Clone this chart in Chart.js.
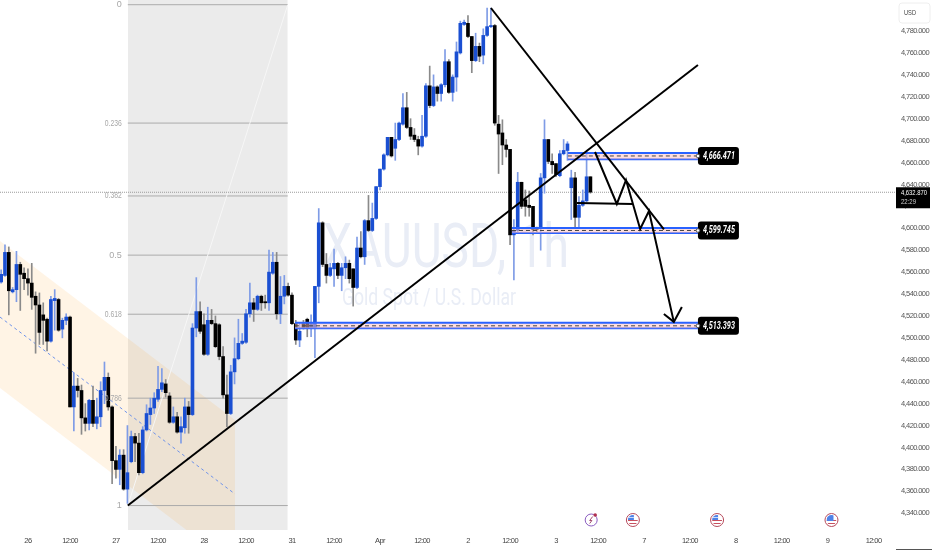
<!DOCTYPE html>
<html>
<head>
<meta charset="utf-8">
<title>XAUUSD 1h</title>
<script src="https://cdn.jsdelivr.net/npm/chart.js@4/dist/chart.umd.min.js"></script>
<style>
  html, body { margin: 0; padding: 0; background: #fff; }
  #wrap { width: 932px; height: 550px; }
</style>
</head>
<body>
<div id="wrap"><canvas id="chart" width="932" height="550"></canvas></div>
<script>
// Candles, hourly, oldest first. First candle sits at bar index -7
const opens = [4551,4557,4578,4542,4544,4567,4559,4554,4550,4538,4530,4521,4517,4497,4534,4535,4508,4516,4519,4437,4456,4452,4427,4422,4443,4422,4428,4452,4464,4437,4388,4380,4393,4362,4387,4410,4404,4377,4416,4430,4436,4444,4453,4458,4447,4423,4428,4414,4418,4437,4430,4509,4524,4512,4485,4516,4513,4512,4483,4448,4431,4469,4481,4495,4496,4522,4532,4526,4538,4533,4532,4559,4569,4522,4538,4547,4539,4513,4498,4513,4517,4509,4509,4547,4605,4567,4557,4563,4568,4557,4564,4568,4563,4546,4582,4574,4607,4598,4609,4638,4654,4667,4683,4673,4681,4695,4710,4692,4685,4681,4675,4684,4730,4712,4729,4723,4731,4752,4724,4738,4760,4786,4787,4775,4753,4766,4758,4776,4784,4785,4695,4687,4676,4672,4594,4598,4642,4626,4621,4620,4600,4600,4646,4681,4661,4659,4648,4668,4671,4637,4646,4610,4621,4625,4647]
const highs = [4562,4585,4583,4546,4579,4569,4564,4563,4568,4542,4541,4532,4518,4538,4544,4536,4518,4522,4520,4468,4463,4457,4440,4444,4456,4445,4460,4478,4468,4438,4401,4398,4398,4420,4415,4413,4413,4419,4439,4445,4450,4474,4472,4462,4450,4437,4432,4428,4445,4442,4513,4555,4533,4522,4528,4526,4520,4513,4492,4466,4475,4500,4517,4504,4526,4550,4536,4539,4539,4539,4580,4578,4578,4556,4557,4550,4541,4516,4514,4516,4518,4521,4547,4618,4606,4577,4568,4581,4569,4568,4574,4571,4563,4592,4597,4608,4630,4623,4638,4654,4668,4683,4683,4696,4697,4723,4724,4700,4691,4684,4703,4732,4748,4740,4730,4732,4763,4754,4740,4770,4789,4790,4794,4775,4778,4769,4782,4801,4801,4786,4703,4699,4681,4672,4608,4651,4642,4635,4634,4620,4601,4650,4699,4681,4668,4659,4671,4681,4679,4653,4651,4629,4635,4670,4647]
const lows = [4550,4556,4521,4541,4533,4525,4544,4539,4526,4486,4494,4494,4488,4496,4507,4506,4500,4512,4437,4415,4446,4412,4415,4416,4419,4417,4419,4440,4434,4367,4372,4366,4361,4349,4386,4387,4375,4376,4415,4421,4431,4442,4451,4446,4422,4422,4413,4404,4413,4413,4429,4501,4504,4484,4484,4512,4491,4480,4445,4419,4430,4458,4480,4494,4495,4519,4515,4525,4525,4527,4525,4558,4517,4513,4531,4538,4512,4494,4492,4508,4501,4501,4482,4532,4565,4550,4556,4547,4554,4543,4554,4550,4529,4545,4573,4567,4597,4597,4608,4635,4653,4666,4665,4662,4680,4694,4691,4681,4679,4667,4674,4683,4710,4711,4716,4716,4729,4723,4716,4725,4759,4785,4774,4742,4752,4752,4750,4775,4783,4694,4650,4658,4665,4585,4553,4597,4618,4611,4611,4594,4595,4580,4632,4659,4650,4647,4647,4667,4662,4608,4601,4600,4620,4624,4632]
const closes = [4558,4578,4543,4544,4567,4558,4554,4550,4537,4530,4505,4516,4497,4535,4536,4507,4516,4519,4437,4456,4452,4427,4422,4443,4422,4428,4452,4464,4437,4388,4380,4393,4362,4377,4410,4404,4377,4416,4431,4436,4445,4453,4459,4450,4423,4428,4414,4419,4437,4430,4509,4524,4506,4485,4516,4513,4492,4483,4448,4431,4469,4481,4495,4497,4522,4532,4526,4538,4532,4532,4560,4569,4522,4538,4547,4539,4513,4498,4506,4509,4509,4513,4547,4605,4567,4557,4564,4568,4557,4564,4568,4554,4546,4582,4574,4607,4598,4609,4638,4654,4667,4683,4666,4681,4696,4710,4692,4684,4681,4675,4684,4730,4712,4729,4723,4731,4752,4724,4738,4761,4787,4788,4775,4753,4766,4757,4776,4784,4785,4696,4686,4676,4672,4594,4598,4642,4620,4620,4619,4599,4599,4646,4681,4661,4658,4649,4668,4671,4677,4646,4610,4621,4625,4647,4633]
const firstBar = -7

// Time axis
const timeTicks = [0,11,23,34,46,57,69,80,92,103,115,126,138,149,161,173,185,197,209,221]
const timeLabels = ["26","12:00","27","12:00","28","12:00","31","12:00","Apr","12:00","2","12:00","3","12:00","7","12:00","8","12:00","9","12:00"]

// Price axis
const priceTicks = [4340,4360,4380,4400,4420,4440,4460,4480,4500,4520,4540,4560,4580,4600,4620,4640,4660,4680,4700,4720,4740,4760,4780]
const priceMin = 4324.7
const priceMax = 4808.3
const barMin = -7.3
const barMax = 226.6
const lastPrice = 4632.87

// Fibonacci retracement
const fibRatios = ["0","0.236","0.382","0.5","0.618","0.786","1"]
const fibPrices = [4804,4696,4629.5,4575.5,4521.6,4445,4347]
const fibStart = 26.1
const fibEnd = 67.9

// Regression channel
const channelBars = [-7.3,54.1]
const channelUpper = [4588.4,4425]
const channelMiddle = [4519,4357.6]
const channelLower = [4454.3,4291]

// Marked zones
const zoneStarts = [141.1,126.5,69.8]
const zoneEnd = 175.1
const zoneTops = [4668.7,4600.3,4513.9]
const zoneBottoms = [4663,4595.7,4508.8]
const zoneMids = [4666,4598,4511]
const zoneLabels = ["4,666.471","4,599.745","4,513.393"]

// Hand drawn lines
const riseLine = [[26.1,4347],[175.1,4749]]
const fallLine = [[121,4801],[166.2,4599]]
const pathLine = [[148.2,4669.6],[153.9,4622.2],[156.3,4644],[160,4599.4],[162.3,4615.8],[168.8,4514.6]]
const flatLine = [[143.5,4623],[158.1,4622.2]]
const arrowHead = [[166.2,4521.8],[168.8,4514.6],[170.9,4528.2]]

// Event markers under the candles
const eventBars = [147.2,158.1,180.1,210]
const eventKinds = ["flash","flag","flag","flagPartial"]

const BLUE = "#1a4fd2"
const BLUE_WICK = "#7f9ce6"
const BLACK = "#000000"
const BLACK_WICK = "#8a8a8a"

const labelFont = '"Liberation Sans", Roboto, sans-serif'

const isUp = opens.map((o, i) => closes[i] >= o)
const datasets = []

function addLine(points, color, width, order, extra) {
  datasets.push(Object.assign({
    type: "line",
    data: points.map((p) => ({ x: p[0], y: p[1] })),
    borderColor: color,
    borderWidth: width,
    pointRadius: 0,
    tension: 0,
    fill: false,
    order: order,
  }, extra || {}))
}

// Gris de fond du fib
addLine([[fibStart, priceMax], [fibEnd, priceMax]], "transparent", 0, 60, { fill: "+1", backgroundColor: "#ebebeb" })
addLine([[fibStart, priceMin], [fibEnd, priceMin]], "transparent", 0, 61)

// Channel
addLine(channelBars.map((b, i) => [b, channelUpper[i]]), "transparent", 0, 50, { fill: "+1", backgroundColor: "rgba(255,152,0,0.1)" })
addLine(channelBars.map((b, i) => [b, channelLower[i]]), "transparent", 0, 51)
addLine(channelBars.map((b, i) => [b, channelMiddle[i]]), "#6f93ea", 1, 49, { borderDash: [3, 3] })

// Fib levels and diagonal
fibPrices.forEach((p) => addLine([[fibStart, p], [fibEnd, p]], "#ababab", 1, 45))
addLine([[fibStart, fibPrices[6]], [fibEnd, fibPrices[0]]], "#f7f7f7", 1, 44)

// Last price line
addLine([[barMin, lastPrice], [barMax, lastPrice]], "#9a9a9a", 1, 40, { borderDash: [1, 1] })

// Candles
datasets.push({
  type: "bar",
  data: opens.map((o, i) => ({ x: firstBar + i, y: [lows[i], highs[i]] })),
  backgroundColor: isUp.map((u) => (u ? BLUE_WICK : BLACK_WICK)),
  barThickness: 1,
  grouped: false,
  order: 31,
})
datasets.push({
  type: "bar",
  data: opens.map((o, i) => ({ x: firstBar + i, y: [o, closes[i]] })),
  backgroundColor: isUp.map((u) => (u ? BLUE : BLACK)),
  barThickness: 3,
  minBarLength: 1,
  grouped: false,
  order: 30,
})

// Zones
zoneStarts.forEach((s, i) => {
  addLine([[s, zoneTops[i]], [zoneEnd, zoneTops[i]]], "#2962ff", 2, 20, { fill: "+1", backgroundColor: "rgba(255,190,190,0.5)" })
  addLine([[s, zoneBottoms[i]], [zoneEnd, zoneBottoms[i]]], "#2962ff", 2, 20)
  addLine([[s, zoneMids[i]], [zoneEnd, zoneMids[i]]], "#444444", 1, 19, { borderDash: [4, 3] })
})

// Black drawings
addLine(riseLine, BLACK, 2, 5)
addLine(fallLine, BLACK, 2, 5)
addLine(pathLine, BLACK, 2, 5)
addLine(flatLine, BLACK, 2, 5)
addLine(arrowHead, BLACK, 2, 5)

function drawFlag(ctx, x, y, partial) {
  ctx.save()
  ctx.beginPath()
  ctx.arc(x, y, 6.5, 0, Math.PI * 2)
  ctx.fillStyle = "#fff"
  ctx.fill()
  ctx.strokeStyle = "#b5495b"
  ctx.lineWidth = 1
  ctx.stroke()
  ctx.beginPath()
  ctx.arc(x, y, 5, 0, Math.PI * 2)
  ctx.clip()
  ctx.fillStyle = "#c8505f"
  ctx.fillRect(x - 5, y, 10, 1)
  ctx.fillRect(x - 5, y + 3, 10, 1)
  ctx.fillStyle = "#4f82e8"
  if (partial) {
    ctx.fillRect(x - 5, y - 5, 7, 6)
  } else {
    ctx.fillRect(x - 5, y - 5, 6, 5)
    ctx.fillStyle = "#fff"
    ctx.fillRect(x - 5, y - 3, 6, 0.7)
  }
  ctx.restore()
}

function drawFlash(ctx, x, y) {
  ctx.save()
  ctx.beginPath()
  ctx.arc(x, y, 6, 0, Math.PI * 2)
  ctx.strokeStyle = "#8a5cc0"
  ctx.lineWidth = 1
  ctx.stroke()
  ctx.beginPath()
  ctx.moveTo(x + 1.5, y - 3.5)
  ctx.lineTo(x - 1.5, y + 0.5)
  ctx.lineTo(x + 0.7, y + 0.5)
  ctx.lineTo(x - 1.5, y + 3.5)
  ctx.strokeStyle = "#a0486e"
  ctx.stroke()
  ctx.beginPath()
  ctx.arc(x + 4, y - 5, 1.8, 0, Math.PI * 2)
  ctx.fillStyle = "#b03050"
  ctx.fill()
  ctx.restore()
}

// Pas de marge pour les libelles qui debordent
function noPadding(axis) {
  axis.paddingLeft = 0
  axis.paddingRight = 0
  axis.paddingTop = 0
  axis.paddingBottom = 0
}

const overlay = {
  id: "overlay",
  beforeDraw(chart) {
    chart.ctx.letterSpacing = "-0.6px"
  },
  // Filigrane sous les bougies
  beforeDatasetsDraw(chart) {
    const ctx = chart.ctx
    ctx.save()
    ctx.letterSpacing = "0px"
    ctx.fillStyle = "#e9edf6"
    ctx.textAlign = "left"
    ctx.textBaseline = "alphabetic"
    ctx.font = "62px Roboto, sans-serif"
    ctx.fillText("XAUUSD, 1h", 323, 267, 246)
    ctx.font = "24px Roboto, sans-serif"
    ctx.fillText("Gold Spot / U.S. Dollar", 342, 305, 174)
    ctx.restore()
  },
  afterDraw(chart) {
    const ctx = chart.ctx
    const xs = chart.scales.x
    const ys = chart.scales.y
    ctx.save()
    ctx.letterSpacing = "0px"

    // Fib labels
    ctx.font = "9px " + labelFont
    ctx.fillStyle = "#a8a8a8"
    ctx.textAlign = "right"
    ctx.textBaseline = "middle"
    fibRatios.forEach((r, i) => {
      ctx.fillText(r, xs.getPixelForValue(fibStart) - 6, ys.getPixelForValue(fibPrices[i]), 17)
    })

    // Zone price tags
    zoneLabels.forEach((label, i) => {
      const x = xs.getPixelForValue(zoneEnd)
      const y = ys.getPixelForValue(zoneMids[i])
      ctx.beginPath()
      ctx.roundRect(x, y - 9, 41, 18, 3)
      ctx.fillStyle = "#000"
      ctx.fill()
      ctx.beginPath()
      ctx.arc(x, y, 1.8, 0, Math.PI * 2)
      ctx.fillStyle = "#fff"
      ctx.fill()
      ctx.strokeStyle = "#555"
      ctx.lineWidth = 1
      ctx.stroke()
      ctx.fillStyle = "#fff"
      ctx.font = "italic bold 10px Roboto, sans-serif"
      ctx.textAlign = "left"
      ctx.fillText(label, x + 5, y + 0.5, 32)
    })

    // Last price tag
    const py = ys.getPixelForValue(lastPrice)
    ctx.fillStyle = "#000"
    ctx.fillRect(896, py - 5, 34, 21)
    ctx.fillStyle = "#fff"
    ctx.font = "8px " + labelFont
    ctx.textAlign = "left"
    ctx.fillText("4,632.870", 901, py + 1, 26)
    ctx.fillStyle = "#d0d0d0"
    ctx.fillText("22:29", 901, py + 10, 15)

    // USD box
    ctx.beginPath()
    ctx.roundRect(899, 3, 31, 20, 3)
    ctx.fillStyle = "#fff"
    ctx.fill()
    ctx.strokeStyle = "#eeeeee"
    ctx.stroke()
    ctx.fillStyle = "#444"
    ctx.font = "8px " + labelFont
    ctx.fillText("USD", 904, 13, 12)

    // Events
    eventBars.forEach((b, i) => {
      const x = xs.getPixelForValue(b)
      if (eventKinds[i] === "flash") drawFlash(ctx, x, 520)
      else drawFlag(ctx, x, 520, eventKinds[i] === "flagPartial")
    })

    // Trait bas droite
    ctx.fillStyle = "#555"
    ctx.fillRect(896, 549, 36, 1)
    ctx.restore()
  },
}

new Chart(document.getElementById("chart").getContext("2d"), {
  data: { datasets: datasets },
  plugins: [overlay],
  options: {
    responsive: false,
    animation: false,
    layout: { padding: 0 },
    plugins: { legend: { display: false }, tooltip: { enabled: false } },
    scales: {
      x: {
        type: "linear",
        offset: false,
        min: barMin,
        max: barMax,
        grid: { display: false, drawTicks: false },
        border: { display: false },
        afterBuildTicks: (axis) => { axis.ticks = timeTicks.map((v) => ({ value: v })) },
        afterFit: (axis) => { axis.height = 20; noPadding(axis) },
        ticks: {
          autoSkip: false,
          maxRotation: 0,
          padding: 6,
          color: "#444",
          font: { family: labelFont, size: 7.5 },
          callback: (value) => timeLabels[timeTicks.indexOf(value)],
        },
      },
      y: {
        type: "linear",
        position: "right",
        min: priceMin,
        max: priceMax,
        grid: { display: false, drawTicks: false },
        border: { display: false },
        afterBuildTicks: (axis) => { axis.ticks = priceTicks.map((v) => ({ value: v })) },
        afterFit: (axis) => { axis.width = 37; noPadding(axis) },
        ticks: {
          autoSkip: false,
          padding: 6,
          color: "#555",
          font: { family: labelFont, size: 7.5 },
          callback: (value) => value.toLocaleString("en-US") + ".000",
        },
      },
    },
  },
})
</script>
</body>
</html>
